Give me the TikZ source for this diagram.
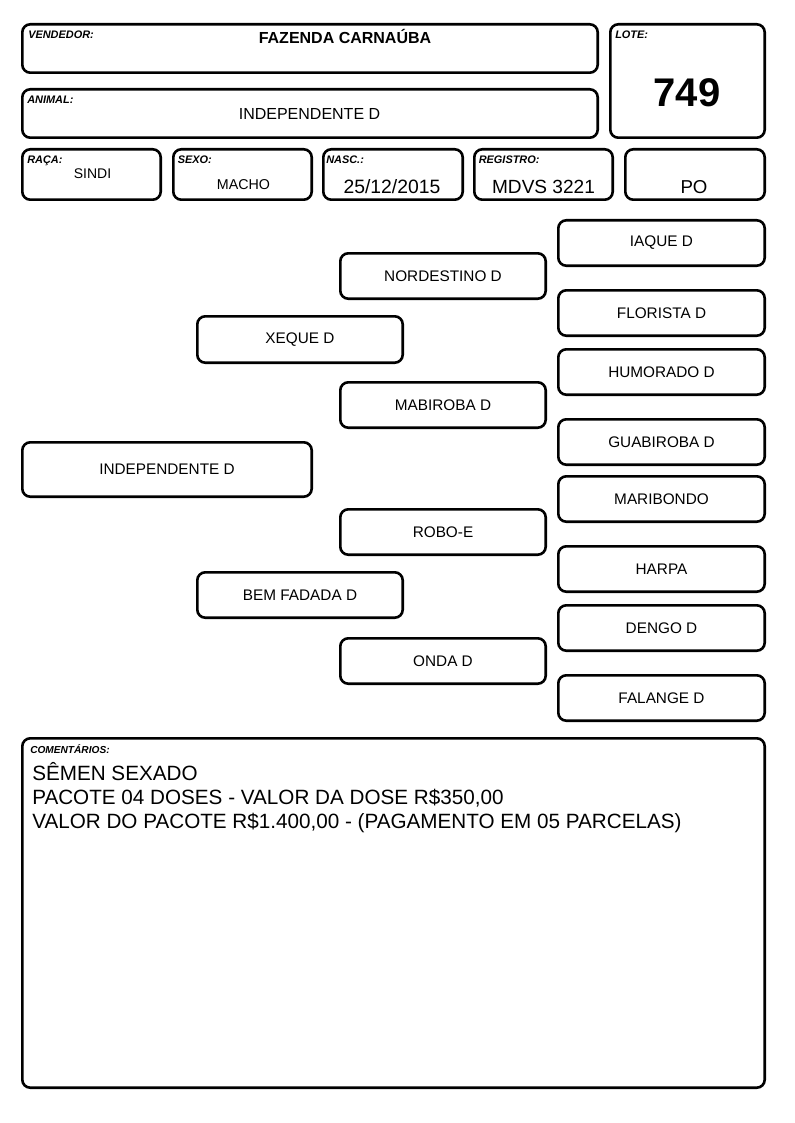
\documentclass[tikz,border=0pt]{standalone}
\usepackage{fontspec}
\setmainfont{Liberation Sans}
\newcommand\pbox[7][]{\node[box,#1,minimum width={(#5-#3-2.6)*0.75pt},minimum height={(#6-#4-2.6)*0.75pt}] (#2) at ({(#3+#5)/2},{(#4+#6)/2}) {#7};}
\begin{document}
\begin{tikzpicture}[x=0.75pt,y=-0.75pt,
 box/.style={draw, line width=1.95pt, rounded corners=6pt, inner sep=0pt},
 lbl/.style={inner sep=0pt, anchor=north west, font=\bfseries\itshape\fontsize{8.2}{9}\selectfont},
 val/.style={inner sep=0pt, anchor=base},
 ped/.style={font=\fontsize{11.5}{13}\selectfont},
 com/.style={inner sep=0pt, anchor=base west, font=\fontsize{15.5}{18}\selectfont}]
\useasboundingbox (0,0) rectangle (794,1123);
% header boxes
\pbox{vend}{21}{23}{599}{74}{}
\pbox{anim}{21}{88}{599}{139}{}
\pbox{lote}{609}{23}{766}{139}{}
\pbox{raca}{21}{148}{162}{201}{}
\pbox{sexo}{172}{148}{313}{201}{}
\pbox{nasc}{322}{148}{464}{201}{}
\pbox{reg}{473}{148}{614}{201}{}
\pbox{po}{624}{148}{766}{201}{}
% labels
\node[lbl] (vendL) at (28,30.5) {VENDEDOR:};
\node[lbl] (animL) at (27,95.5) {ANIMAL:};
\node[lbl] (loteL) at (615,31) {LOTE:};
\node[lbl] (racaL) at (27,155.5) {RAÇA:};
\node[lbl] (sexoL) at (177.5,156) {SEXO:};
\node[lbl] (nascL) at (326,156) {NASC.:};
\node[lbl] (regL) at (478.5,156) {REGISTRO:};
% values
\node[val, font=\bfseries\fontsize{12}{14}\selectfont] (vendV) at (345,44) {FAZENDA CARNAÚBA};
\node[val, font=\fontsize{12}{14}\selectfont] (animV) at (309.5,119.5) {INDEPENDENTE D};
\node[val, font=\bfseries\fontsize{30}{34}\selectfont] (loteV) at (687,107) {749};
\node[val, font=\fontsize{10.5}{12}\selectfont] (racaV) at (92.5,178.5) {SINDI};
\node[val, font=\fontsize{10.7}{12}\selectfont] (sexoV) at (243.5,189.5) {MACHO};
\node[val, font=\fontsize{14.5}{16}\selectfont] (nascV) at (392,194) {25/12/2015};
\node[val, font=\fontsize{14.3}{16}\selectfont] (regV) at (543.5,193.5) {MDVS 3221};
\node[val, font=\fontsize{14}{16}\selectfont] (poV) at (694,193.5) {PO};
% pedigree
\pbox[ped]{p1}{21}{441}{313}{498}{INDEPENDENTE D}
\pbox[ped]{p2}{196}{315}{404}{364}{XEQUE D}
\pbox[ped]{p3}{196}{571}{404}{619}{BEM FADADA D}
\pbox[ped]{p4}{339}{252}{547}{300}{NORDESTINO D}
\pbox[ped]{p5}{339}{381}{547}{429}{MABIROBA D}
\pbox[ped]{p6}{339}{508}{547}{556}{ROBO-E}
\pbox[ped]{p7}{339}{637}{547}{685}{ONDA D}
\pbox[ped]{p8}{557}{219}{766}{267}{IAQUE D}
\pbox[ped]{p9}{557}{289}{766}{337}{FLORISTA D}
\pbox[ped]{p10}{557}{348}{766}{396}{HUMORADO D}
\pbox[ped]{p11}{557}{418}{766}{466}{GUABIROBA D}
\pbox[ped]{p12}{557}{475}{766}{523}{MARIBONDO}
\pbox[ped]{p13}{557}{545}{766}{593}{HARPA}
\pbox[ped]{p14}{557}{604}{766}{652}{DENGO D}
\pbox[ped]{p15}{557}{674}{766}{722}{FALANGE D}
% comments
\pbox{comB}{21}{737}{766}{1089}{}
\node[lbl, font=\bfseries\itshape\fontsize{7.6}{9}\selectfont] (comL) at (30,744) {COMENTÁRIOS:};
\node[com] (c1) at (32,780.5) {SÊMEN SEXADO};
\node[com] (c2) at (32,804.5) {PACOTE 04 DOSES - VALOR DA DOSE R\$350,00};
\node[com] (c3) at (32,828.5) {VALOR DO PACOTE R\$1.400,00 - (PAGAMENTO EM 05 PARCELAS)};
\end{tikzpicture}
\end{document}
